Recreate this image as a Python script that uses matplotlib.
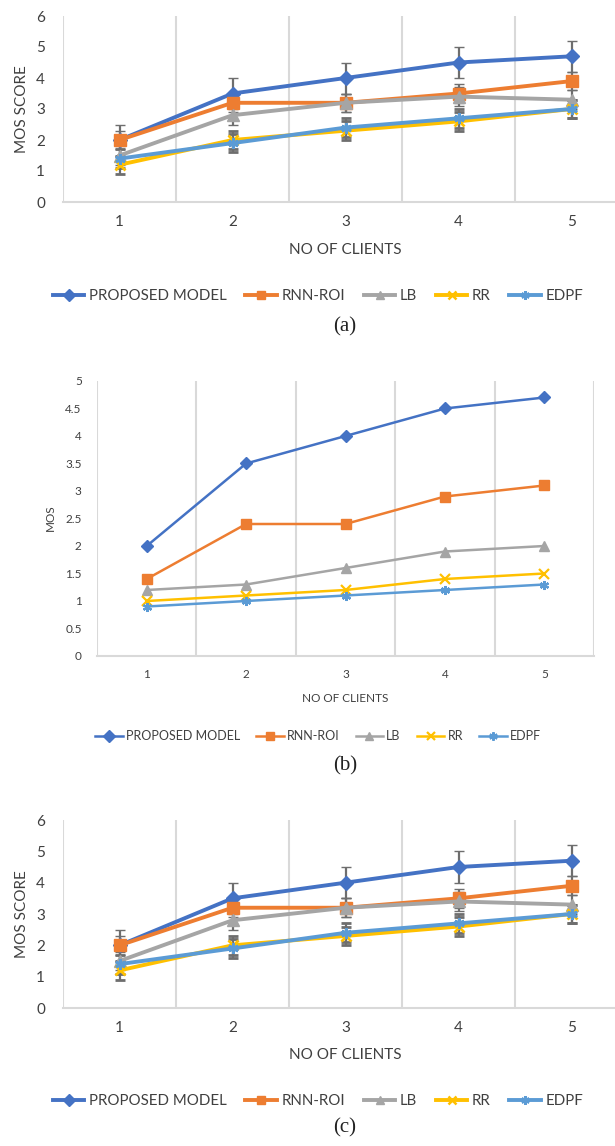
import numpy as np
import matplotlib.pyplot as plt
from matplotlib.lines import Line2D
from matplotlib.ticker import FuncFormatter

# tamaño final en pixeles
W, H = 615, 1146

clients = [1, 2, 3, 4, 5]
series_names = ["PROPOSED MODEL", "RNN-ROI", "LB", "RR", "EDPF"]

# (a) y (c): MOS score con barras de error
mos_proposed = [2.0, 3.5, 4.0, 4.5, 4.7]
mos_rnn = [2.0, 3.2, 3.2, 3.5, 3.9]
mos_lb = [1.5, 2.8, 3.2, 3.4, 3.3]
mos_rr = [1.2, 2.0, 2.3, 2.6, 3.0]
mos_edpf = [1.4, 1.9, 2.4, 2.7, 3.0]
err_by_series = [0.5, 0.3, 0.3, 0.3, 0.3]

# (b): MOS sin barras de error
b_proposed = [2.0, 3.5, 4.0, 4.5, 4.7]
b_rnn = [1.4, 2.4, 2.4, 2.9, 3.1]
b_lb = [1.2, 1.3, 1.6, 1.9, 2.0]
b_rr = [1.0, 1.1, 1.2, 1.4, 1.5]
b_edpf = [0.9, 1.0, 1.1, 1.2, 1.3]

COLORS = ["#4472C4", "#ED7D31", "#A5A5A5", "#FFC000", "#5B9BD5"]
MARKERS = ["D", "s", "^", "x", (6, 2, 0)]
GRID = "#D9D9D9"
TXT = "#404040"
ERR = "#6E6E6E"

plt.rcParams["font.family"] = ["Lato", "DejaVu Sans"]

fig = plt.figure(figsize=(W / 100, H / 100), dpi=100)
fig.patch.set_facecolor("white")


def fx(px):
    return px / W


def fy(py):
    return 1 - py / H


def px_axes(left, top, right, bottom):
    return fig.add_axes([left / W, 1 - bottom / H, (right - left) / W, (bottom - top) / H])


def estilo(ax, ymax, ystep, fs, padx, pady):
    ax.set_xlim(0.5, 5.5)
    ax.set_ylim(0, ymax)
    ax.set_xticks(clients)
    ax.set_xticks([0.5 + i for i in range(6)], minor=True)
    ax.set_yticks(np.arange(0, ymax + 0.001, ystep))
    ax.yaxis.set_major_formatter(FuncFormatter(lambda v, p: f"{v:g}"))
    ax.grid(True, which="minor", axis="x", color=GRID, lw=1.5)
    ax.grid(False, which="major")
    ax.tick_params(which="both", length=0)
    ax.tick_params(axis="x", labelsize=fs, labelcolor=TXT, pad=padx)
    ax.tick_params(axis="y", labelsize=fs, labelcolor=TXT, pad=pady)
    for s in ["top", "right", "left"]:
        ax.spines[s].set_visible(False)
    ax.spines["bottom"].set_color(GRID)
    ax.spines["bottom"].set_linewidth(1.5)


def panel_error(top, bottom, xlab_y, leg_y, cap_y, caption):
    ax = px_axes(63, top, 628, bottom)
    estilo(ax, 6, 1, 11, 9, 13)
    datos = [mos_proposed, mos_rnn, mos_lb, mos_rr, mos_edpf]
    for vals, c, m, e in zip(datos, COLORS, MARKERS, err_by_series):
        ms = 8.5 if m in ("s", "^") else 7.5
        ax.errorbar(clients, vals, yerr=e, color=c, lw=2.8, marker=m, ms=ms,
                    mew=2 if m in ("x", (6, 2, 0)) else 1, mec=c,
                    ecolor=ERR, elinewidth=1.6, capsize=3.5, capthick=1.6)
    fig.text(fx(22), fy((top + bottom) / 2), "MOS SCORE", rotation=90,
             ha="center", va="center", fontsize=11, color=TXT)
    fig.text(fx(345), fy(xlab_y), "NO OF CLIENTS", ha="center", va="center",
             fontsize=11, color=TXT)
    handles = [Line2D([], [], color=c, lw=2.8, marker=m, ms=6,
                      mew=1.8 if m in ("x", (6, 2, 0)) else 1, mec=c)
               for c, m in zip(COLORS, MARKERS)]
    leg = fig.legend(handles, series_names, ncol=5, loc="center",
                     bbox_to_anchor=(fx(318), fy(leg_y)), frameon=False,
                     fontsize=10.8, handlelength=2.1, handletextpad=0.3,
                     columnspacing=1.25)
    for t in leg.get_texts():
        t.set_color(TXT)
    fig.text(fx(345), fy(cap_y), caption, ha="center", va="center",
             fontsize=15, family="Liberation Serif", color="#222222")


panel_error(16, 202, 250, 296, 327, "(a)")

# panel (b)
ax = px_axes(97, 381, 594, 656)
estilo(ax, 5, 0.5, 8.5, 9, 11)
datos_b = [b_proposed, b_rnn, b_lb, b_rr, b_edpf]
for vals, c, m in zip(datos_b, COLORS, MARKERS):
    ms = 7 if m in ("s", "^") else 6.5
    ax.plot(clients, vals, color=c, lw=1.8, marker=m, ms=ms,
            mew=1.6 if m in ("x", (6, 2, 0)) else 1, mec=c)
fig.text(fx(50), fy(518), "MOS", rotation=90, ha="center", va="center",
         fontsize=8.5, color=TXT)
fig.text(fx(345), fy(698), "NO OF CLIENTS", ha="center", va="center",
         fontsize=8.5, color=TXT)
handles_b = [Line2D([], [], color=c, lw=1.8, marker=m, ms=6,
                    mew=1.6 if m in ("x", (6, 2, 0)) else 1, mec=c)
             for c, m in zip(COLORS, MARKERS)]
leg = fig.legend(handles_b, series_names, ncol=5, loc="center",
                 bbox_to_anchor=(fx(318), fy(736)), frameon=False,
                 fontsize=9, handlelength=2.2, handletextpad=0.25,
                 columnspacing=1.3)
for t in leg.get_texts():
    t.set_color(TXT)
fig.text(fx(345), fy(766), "(b)", ha="center", va="center",
         fontsize=15, family="Liberation Serif", color="#222222")

panel_error(820, 1008, 1055, 1101, 1128, "(c)")

fig.savefig("out.png", dpi=100, facecolor="white")
